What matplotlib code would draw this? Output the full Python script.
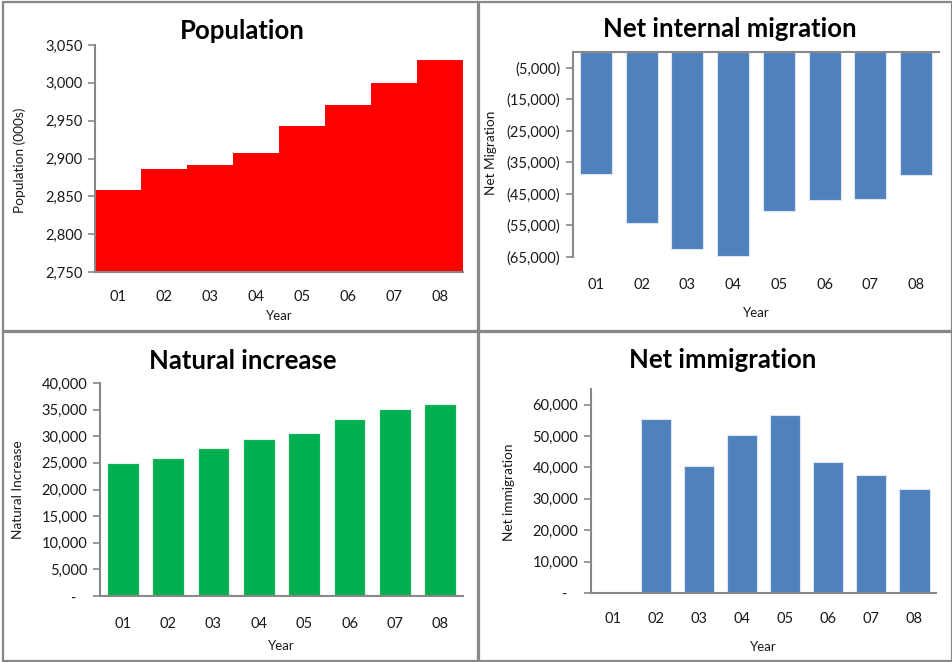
import numpy as np
import matplotlib
matplotlib.use('Agg')
import matplotlib.pyplot as plt
from matplotlib.patches import Rectangle

plt.rcParams['font.family'] = ['Lato', 'DejaVu Sans']

# Data
years = ['01', '02', '03', '04', '05', '06', '07', '08']
population = [2859, 2886, 2892, 2907, 2943, 2971, 3000, 3030]          # thousands
internal_migration = [-38800, -54200, -62500, -64800, -50500, -46900, -46600, -39100]
natural_increase = [25000, 26000, 27700, 29400, 30700, 33200, 35200, 36000]
immigration = [0, 55400, 40500, 50300, 56800, 41600, 37500, 33000]

W, H = 953, 662
GRAY = '#888888'
TXT = '#1a1a1a'
BLUE = '#4F81BD'
GREEN = '#00B050'
RED = '#FF0000'

fig = plt.figure(figsize=(W / 100, H / 100), dpi=100)


def px_axes(left, top, right, bottom):
    # axes placed by pixel box (origin top-left)
    return fig.add_axes([left / W, 1 - bottom / H, (right - left) / W, (bottom - top) / H])


def style(ax, ylabel, ylab_x, ylab_y, tick_pad, year_y, box):
    left, top, right, bottom = box
    for s in ['top', 'right']:
        ax.spines[s].set_visible(False)
    for s in ['left', 'bottom']:
        ax.spines[s].set_color(GRAY)
        ax.spines[s].set_linewidth(1.5)
    ax.tick_params(axis='y', direction='out', length=5, width=1.2, color=GRAY,
                   labelsize=10.5, labelcolor=TXT, pad=4)
    ax.tick_params(axis='x', length=0, labelsize=10.5, labelcolor=TXT, pad=tick_pad)
    ax.set_xlabel('Year', fontsize=9.5, color=TXT)
    ax.xaxis.label.set_va('center')
    ax.xaxis.set_label_coords(0.5, -(year_y - bottom) / (bottom - top))
    ax.set_ylabel(ylabel, fontsize=9.8, color=TXT)
    ax.yaxis.label.set_va('center')
    ax.yaxis.label.set_ha('center')
    ax.yaxis.set_label_coords(-(left - ylab_x) / (right - left), (bottom - ylab_y) / (bottom - top))


def title(text, x, y):
    fig.text(x / W, 1 - y / H, text, ha='center', va='center',
             fontsize=18.5, fontweight='bold', color='black')


def fmt_plain(v):
    return '-   ' if v == 0 else f'{v:,.0f}'


def fmt_paren(v):
    return f'({abs(v):,.0f})' if v < 0 else f'{v:,.0f}'


x = np.arange(len(years))

# panel frames
for (l, t, r, b) in [(3, 1.5, 478, 331), (479, 1.5, 952, 331),
                     (3, 332, 478, 661), (479, 332, 952, 661)]:
    fig.add_artist(Rectangle((l / W, 1 - b / H), (r - l) / W, (b - t) / H,
                             transform=fig.transFigure, fill=False,
                             edgecolor=GRAY, linewidth=1.6))

# Population (stepped area)
box1 = (95, 45, 463, 272)
ax1 = px_axes(*box1)
ax1.stairs(population, np.arange(len(years) + 1) - 0.5, baseline=2750,
           fill=True, color=RED)
ax1.set_xlim(-0.5, len(years) - 0.5)
ax1.set_ylim(2750, 3050)
ax1.set_yticks(np.arange(2750, 3051, 50))
ax1.set_yticklabels([fmt_plain(v) for v in np.arange(2750, 3051, 50)])
ax1.set_xticks(x)
ax1.set_xticklabels(years)
style(ax1, 'Population (000s)', 20, 160, 13, 316, box1)
title('Population', 242, 31)

# Net internal migration
box2 = (573, 52, 939, 257)
ax2 = px_axes(*box2)
ax2.bar(x, internal_migration, width=0.7, color=BLUE, edgecolor='#DCE6F2', linewidth=0.8)
ax2.set_xlim(-0.5, len(years) - 0.5)
ax2.set_ylim(-65000, 0)
mig_ticks = np.arange(-65000, -4999, 10000)
ax2.set_yticks(mig_ticks)
ax2.set_yticklabels([fmt_paren(v) for v in mig_ticks])
ax2.set_xticks(x)
ax2.set_xticklabels(years)
style(ax2, 'Net Migration', 491, 153, 15, 313, box2)
ax2.spines['bottom'].set_visible(False)
ax2.spines['top'].set_visible(True)
ax2.spines['top'].set_color(GRAY)
ax2.spines['top'].set_linewidth(1.5)
title('Net internal migration', 730, 29)

# Natural increase
box3 = (100, 383, 463, 596)
ax3 = px_axes(*box3)
ax3.bar(x, natural_increase, width=0.7, color=GREEN, edgecolor='#E6F5EA', linewidth=0.8)
ax3.set_xlim(-0.5, len(years) - 0.5)
ax3.set_ylim(0, 40000)
nat_ticks = np.arange(0, 40001, 5000)
ax3.set_yticks(nat_ticks)
ax3.set_yticklabels([fmt_plain(v) for v in nat_ticks])
ax3.set_xticks(x)
ax3.set_xticklabels(years)
style(ax3, 'Natural Increase', 18, 490, 15, 646, box3)
title('Natural increase', 243, 361)

# Net immigration
box4 = (591, 389, 936, 593)
ax4 = px_axes(*box4)
ax4.bar(x, immigration, width=0.7, color=BLUE, edgecolor='#DCE6F2', linewidth=0.8)
ax4.set_xlim(-0.5, len(years) - 0.5)
ax4.set_ylim(0, 65000)
imm_ticks = np.arange(0, 60001, 10000)
ax4.set_yticks(imm_ticks)
ax4.set_yticklabels([fmt_plain(v) for v in imm_ticks])
ax4.set_xticks(x)
ax4.set_xticklabels(years)
style(ax4, 'Net immigration', 509, 492, 14, 647, box4)
title('Net immigration', 723, 360)

fig.savefig('out.png', dpi=100)
